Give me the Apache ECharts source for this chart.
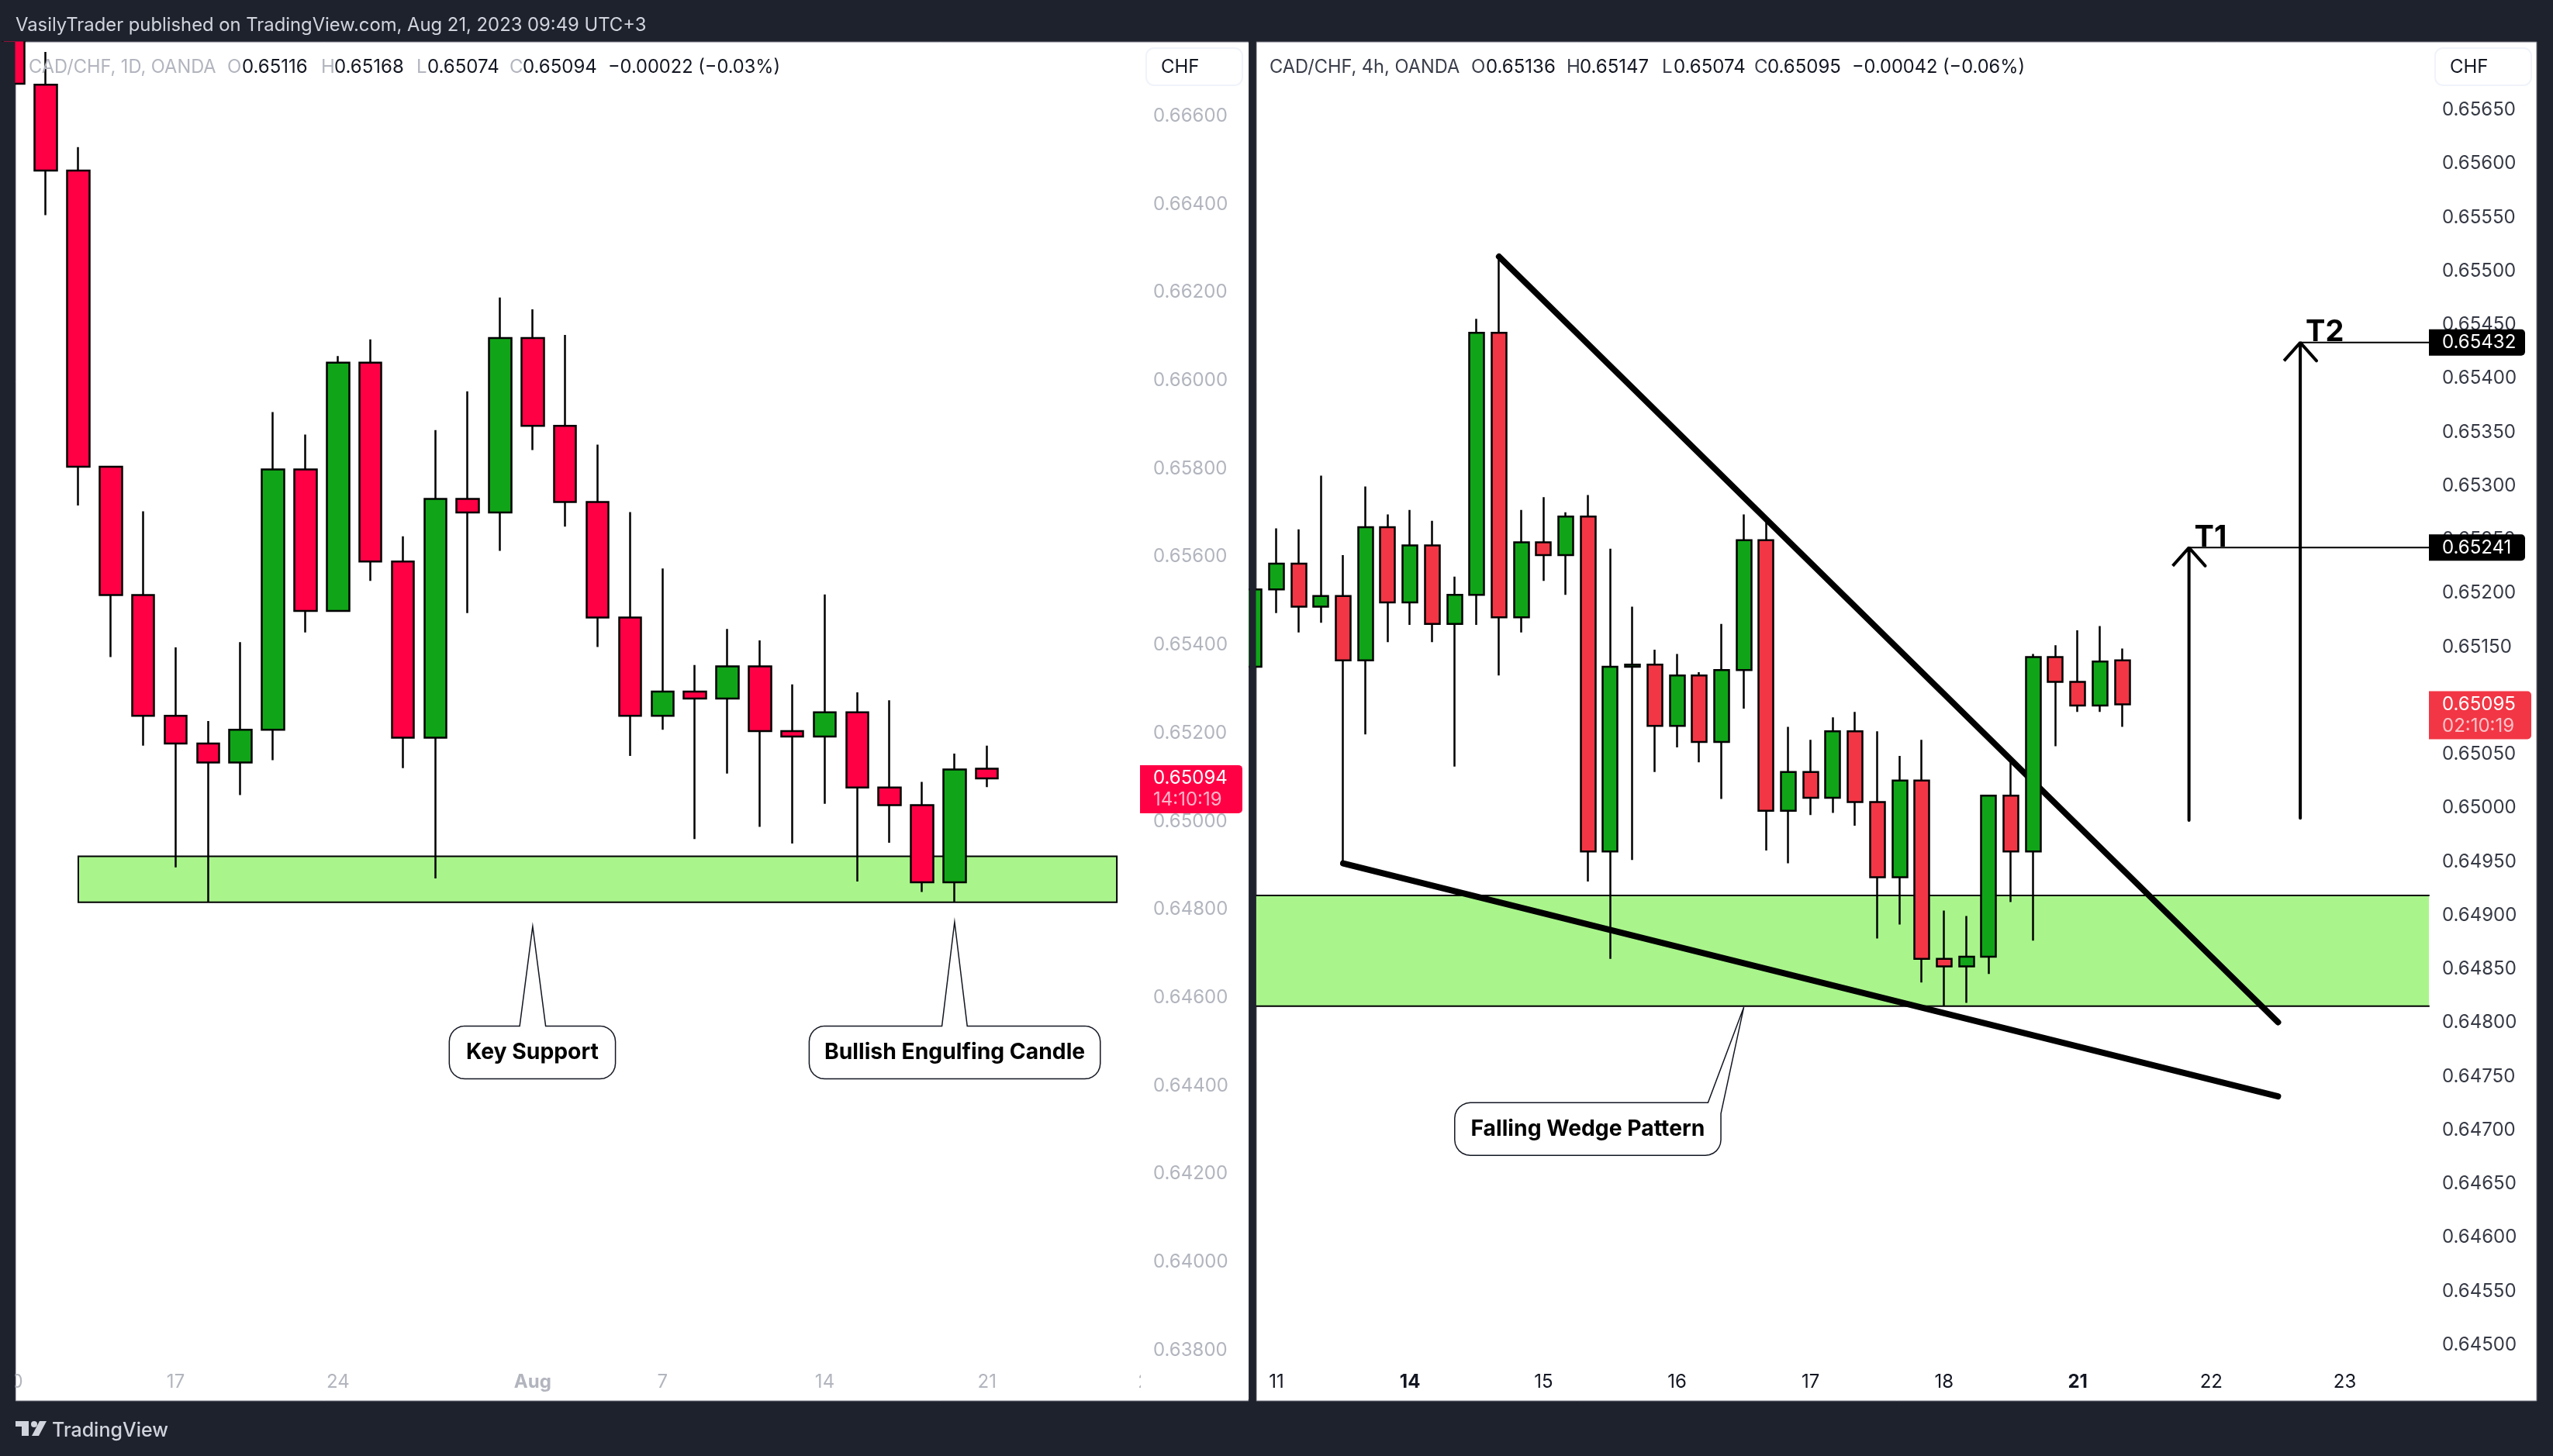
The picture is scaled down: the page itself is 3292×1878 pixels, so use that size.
<!DOCTYPE html>
<html>
<head>
<meta charset="utf-8">
<title>CAD/CHF</title>
<script src="https://cdn.jsdelivr.net/npm/echarts@6/dist/echarts.min.js"></script>
<style>
   html, body { margin: 0; padding: 0; background: #1e222d; }
   #chart { width: 3292px; height: 1878px; }
</style>
</head>
<body>
<div id="chart"></div>
<script>
// daily pane, bar 0 is Jul 10
const dailyOpen  = [0.66800,0.66668,0.66473,0.65801,0.65510,0.65236,0.65173,0.65130,0.65204,0.65795,0.65474,0.66037,0.65586,0.65186,0.65728,0.65697,0.66093,0.65894,0.65721,0.65459,0.65236,0.65291,0.65275,0.65348,0.65201,0.65189,0.65244,0.65073,0.65033,0.64858,0.65116];
const dailyClose = [0.66670,0.66473,0.65801,0.65510,0.65236,0.65173,0.65130,0.65204,0.65795,0.65474,0.66037,0.65586,0.65186,0.65728,0.65697,0.66093,0.65894,0.65721,0.65459,0.65236,0.65291,0.65275,0.65348,0.65201,0.65189,0.65244,0.65073,0.65033,0.64858,0.65114,0.65094];
const dailyLow   = [0.66670,0.66372,0.65713,0.65369,0.65168,0.64892,0.64814,0.65056,0.65135,0.65425,0.65474,0.65542,0.65117,0.64867,0.65469,0.65610,0.65839,0.65665,0.65392,0.65145,0.65204,0.64956,0.65105,0.64984,0.64946,0.65036,0.64860,0.64948,0.64836,0.64814,0.65074];
const dailyHigh  = [0.66800,0.66742,0.66526,0.65801,0.65700,0.65391,0.65224,0.65403,0.65925,0.65874,0.66052,0.66090,0.65643,0.65884,0.65972,0.66185,0.66158,0.66100,0.65851,0.65698,0.65570,0.65351,0.65433,0.65407,0.65307,0.65511,0.65289,0.65271,0.65086,0.65150,0.65168];
const dailyPriceTicks = [0.638,0.640,0.642,0.644,0.646,0.648,0.650,0.652,0.654,0.656,0.658,0.660,0.662,0.664,0.666];
const dailyTimeBars   = [0,5,10,16,20,25,30,35];
const dailyTimeLabels = ['10','17','24','Aug','7','14','21','28'];
const dailyBold = ['Aug'];
const dailyZone = [2, 34, 0.64917, 0.64813];

// 4h pane
const h4Open  = [0.65130,0.65202,0.65226,0.65186,0.65196,0.65136,0.65260,0.65190,0.65243,0.65170,0.65197,0.65441,0.65176,0.65246,0.65234,0.65270,0.64958,0.65130,0.65132,0.65075,0.65122,0.65060,0.65127,0.65248,0.64996,0.65032,0.65008,0.65070,0.65004,0.64934,0.65024,0.64858,0.64851,0.64860,0.65010,0.64958,0.65139,0.65116,0.65094,0.65136];
const h4Close = [0.65202,0.65226,0.65186,0.65196,0.65136,0.65260,0.65190,0.65243,0.65170,0.65197,0.65441,0.65176,0.65246,0.65234,0.65270,0.64958,0.65130,0.65132,0.65075,0.65122,0.65060,0.65127,0.65248,0.64996,0.65032,0.65008,0.65070,0.65004,0.64934,0.65024,0.64858,0.64851,0.64860,0.65010,0.64958,0.65139,0.65116,0.65094,0.65135,0.65095];
const h4Low   = [0.65120,0.65180,0.65162,0.65171,0.64949,0.65067,0.65153,0.65169,0.65153,0.65037,0.65169,0.65122,0.65162,0.65210,0.65197,0.64930,0.64858,0.64950,0.65032,0.65055,0.65041,0.65007,0.65091,0.64959,0.64947,0.64992,0.64994,0.64982,0.64877,0.64890,0.64836,0.64814,0.64817,0.64844,0.64911,0.64875,0.65056,0.65088,0.65088,0.65074];
const h4High  = [0.65210,0.65259,0.65258,0.65308,0.65234,0.65298,0.65272,0.65276,0.65266,0.65214,0.65454,0.65511,0.65276,0.65288,0.65274,0.65290,0.65240,0.65186,0.65146,0.65142,0.65125,0.65170,0.65272,0.65268,0.65074,0.65062,0.65083,0.65088,0.65070,0.65047,0.65062,0.64903,0.64898,0.65010,0.65042,0.65142,0.65150,0.65164,0.65168,0.65147];
const h4PriceTicks = [0.645,0.6455,0.646,0.6465,0.647,0.6475,0.648,0.6485,0.649,0.6495,0.650,0.6505,0.651,0.6515,0.652,0.6525,0.653,0.6535,0.654,0.6545,0.655,0.6555,0.656,0.6565];
const h4TimeBars   = [1,7,13,19,25,31,37,43,49];
const h4TimeLabels = ['11','14','15','16','17','18','21','22','23'];
const h4Bold = ['14','21'];
const h4Zone = [0.0976, 52.78, 0.64917, 0.64814];

// drawings on the 4h pane, as [bar, price]
const wedgeUpper = [[11,0.65512],[46,0.64799]];
const wedgeLower = [[4,0.64947],[46,0.64730]];
const t1Price = 0.65241, t2Price = 0.65432;
const t1Arrow = [[42,0.64987],[42,t1Price],[41.27,0.65224],[42,t1Price],[42.73,0.65224]];
const t2Arrow = [[47,0.64989],[47,t2Price],[46.27,0.65415],[47,t2Price],[47.73,0.65415]];
const t1Line = [[42,t1Price],[52.78,t1Price]];
const t2Line = [[47,t2Price],[52.78,t2Price]];
const zoneTopLine = [[0.0976,0.64917],[52.78,0.64917]];
const zoneBottomLine = [[0.0976,0.64814],[52.78,0.64814]];
const targetNotes = [[42,t1Price,'T1'],[47,t2Price,'T2']];

const dailyCallouts = [
   { text: 'Key Support', l: 13.43, r: 18.55, t: 0.64532, b: 0.64412, tip: [16,0.64758], a: [15.6,0.64532], c: [16.4,0.64532] },
   { text: 'Bullish Engulfing Candle', l: 24.52, r: 33.49, t: 0.64532, b: 0.64412, tip: [29,0.64768], a: [28.61,0.64532], c: [29.39,0.64532] },
];
const h4Callouts = [
   { text: 'Falling Wedge Pattern', l: 9.01, r: 20.97, t: 0.64724, b: 0.64675, tip: [22,0.64813], a: [20.39,0.64724], c: [20.97,0.64714] },
];

const dailyBadges = [{ price: 0.65094, text: '0.65094', timer: '14:10:19', fill: '#ff0045', w: 132 }];
const h4Badges = [
   { price: 0.65095, text: '0.65095', timer: '02:10:19', fill: '#f23645', w: 132 },
   { price: t1Price, text: '0.65241', fill: '#000000', w: 124 },
   { price: t2Price, text: '0.65432', fill: '#000000', w: 124 },
];

const dailyLegend = [
   ['CAD/CHF, 1D, OANDA',37,'g'],['O',293,'g'],['0.65116',312,'k'],['H',414,'g'],['0.65168',431,'k'],
   ['L',537,'g'],['0.65074',551,'k'],['C',657,'g'],['0.65094',674,'k'],['\u22120.00022 (\u22120.03%)',784,'k'],
];
const h4Legend = [
   ['CAD/CHF, 4h, OANDA',1637,'d'],['O',1897,'d'],['0.65136',1916,'k'],['H',2020,'d'],['0.65147',2037,'k'],
   ['L',2143,'d'],['0.65074',2158,'k'],['C',2262,'d'],['0.65095',2279,'k'],['\u22120.00042 (\u22120.06%)',2388,'k'],
];

const FONT = 'Inter, "Noto Sans", sans-serif';
const BG = '#1e222d';
const UP = '#10a518';


function bars(o, c, l, h)
{
   return o.map((v, i) => [i, v, c[i], l[i], h[i]]);
}

function candleSeries(idx, data, downColor, width, zone, zoneBorder)
{
   return {
      type: 'candlestick',
      xAxisIndex: idx,
      yAxisIndex: idx,
      data: data,
      barWidth: width,
      z: 2,
      silent: true,
      itemStyle: { color: UP, color0: downColor, borderColor: '#000', borderColor0: '#000', borderColorDoji: '#000', borderWidth: 2.5 },
      markArea: {
         silent: true,
         itemStyle: { color: '#a9f58b', borderColor: '#000', borderWidth: zoneBorder },
         data: [[ { xAxis: zone[0], yAxis: zone[2] }, { xAxis: zone[1], yAxis: zone[3] } ]],
      },
   };
}

function lineSeries(idx, data, width, z)
{
   return {
      type: 'line',
      xAxisIndex: idx,
      yAxisIndex: idx,
      data: data,
      symbol: 'none',
      silent: true,
      clip: false,
      z: z,
      lineStyle: { color: '#000', width: width, cap: 'round' },
   };
}

function arc(pts, cx, cy, r, a0)
{
   for (var i=0; i<=6; i++)
   {
      var a = (a0 + i*15) * Math.PI / 180;
      pts.push([cx + r*Math.cos(a), cy + r*Math.sin(a)]);
   }
}

function calloutSeries(idx, list)
{
   return {
      type: 'custom',
      xAxisIndex: idx,
      yAxisIndex: idx,
      silent: true,
      z: 5,
      data: list.map(c => c.tip),
      renderItem: function(params, api)
      {
         const c = list[params.dataIndex];
         const tl = api.coord([c.l, c.t]);
         const br = api.coord([c.r, c.b]);
         const r = 20;
         const pts = [];
         arc(pts, tl[0]+r, tl[1]+r, r, 180);
         pts.push(api.coord(c.a), api.coord(c.tip), api.coord(c.c));
         // base on the top edge needs the top right corner, otherwise it already sits on the right side
         if (c.c[1] === c.t) arc(pts, br[0]-r, tl[1]+r, r, 270);
         arc(pts, br[0]-r, br[1]-r, r, 0);
         arc(pts, tl[0]+r, br[1]-r, r, 90);
         return {
            type: 'group',
            children: [
               { type: 'polygon', shape: { points: pts }, style: { fill: '#fff', stroke: '#131722', lineWidth: 1.5 } },
               { type: 'text', style: { text: c.text, x: (tl[0]+br[0])/2, y: (tl[1]+br[1])/2, align: 'center', verticalAlign: 'middle',
                  fill: '#000', font: '700 28.3px ' + FONT } },
            ],
         };
      },
   };
}

function badgeSeries(idx, list, x0)
{
   return {
      type: 'custom',
      xAxisIndex: idx,
      yAxisIndex: idx,
      silent: true,
      z: 6,
      data: list.map(b => [1, b.price]),
      renderItem: function(params, api)
      {
         const b = list[params.dataIndex];
         const y = api.coord([1, b.price])[1];
         const h = b.timer ? 62 : 34;
         const kids = [
            { type: 'rect', shape: { x: x0, y: y-17, width: b.w, height: h, r: [0,5,5,0] }, style: { fill: b.fill } },
            { type: 'text', style: { text: b.text, x: x0+17, y: y, verticalAlign: 'middle', fill: '#fff', font: '24px ' + FONT } },
         ];
         if (b.timer) kids.push({ type: 'text', style: { text: b.timer, x: x0+17, y: y+28, verticalAlign: 'middle', fill: 'rgba(255,255,255,0.7)', font: '24px ' + FONT } });
         return { type: 'group', children: kids };
      },
   };
}

function noteSeries(idx, list)
{
   return {
      type: 'custom',
      xAxisIndex: idx,
      yAxisIndex: idx,
      silent: true,
      z: 6,
      data: list.map(n => [n[0], n[1]]),
      renderItem: function(params, api)
      {
         const n = list[params.dataIndex];
         const p = api.coord([n[0], n[1]]);
         return { type: 'text', style: { text: n[2], x: p[0]+7, y: p[1]-13, verticalAlign: 'middle', fill: '#000', font: '700 38px ' + FONT } };
      },
   };
}

function timeAxis(idx, min, max, ticks, labels, bold, color)
{
   return {
      type: 'value',
      gridIndex: idx,
      min: min,
      max: max,
      axisLine: { show: false },
      axisTick: { show: false },
      splitLine: { show: false },
      axisLabel: {
         customValues: ticks,
         margin: 19,
         color: color,
         fontFamily: FONT,
         fontSize: 24,
         hideOverlap: false,
         formatter: function(v)
         {
            const s = labels[ticks.indexOf(v)];
            return bold.indexOf(s) >= 0 ? '{b|' + s + '}' : s;
         },
         rich: { b: { fontFamily: FONT, fontSize: 24, fontWeight: 700, color: color } },
      },
   };
}

function priceAxis(idx, min, max, ticks, color, margin)
{
   return {
      type: 'value',
      gridIndex: idx,
      position: 'right',
      min: min,
      max: max,
      axisLine: { show: false },
      axisTick: { show: false },
      splitLine: { show: false },
      axisLabel: {
         customValues: ticks,
         margin: margin,
         // a short top aligned line box puts the digits 2px under the tick, as in the picture
         verticalAlign: 'top',
         lineHeight: 4,
         color: color,
         fontFamily: FONT,
         fontSize: 24,
         hideOverlap: false,
         formatter: (v) => v.toFixed(5),
      },
   };
}

function legendTexts(list)
{
   const colors = { g: '#b2b5be', d: '#3a3e4a', k: '#131722' };
   return list.map(s => ({
      type: 'text',
      z: 100,
      x: s[1],
      y: 87,
      style: { text: s[0], fill: colors[s[2]], font: (s[0].length > 7 ? '23.6px ' : '24px ') + FONT, verticalAlign: 'middle' },
   }));
}

function currencyBox(x, textX)
{
   return [
      { type: 'rect', z: 100, shape: { x: x, y: 62, width: 124, height: 48, r: 10 }, style: { fill: '#fff', stroke: '#f0f3fa', lineWidth: 2 } },
      { type: 'text', z: 101, x: textX, y: 87, style: { text: 'CHF', fill: '#131722', font: '24px ' + FONT, verticalAlign: 'middle' } },
   ];
}


const chart = echarts.init(document.getElementById('chart'), null, { renderer: 'canvas' });

chart.setOption({
   animation: false,
   backgroundColor: BG,
   grid: [
      { left: 0, top: 54, width: 1487, height: 1698 },
      { left: 1620, top: 54, width: 1512, height: 1698 },
   ],
   xAxis: [
      timeAxis(0, -0.4134, 35.12, dailyTimeBars, dailyTimeLabels, dailyBold, '#b2b5be'),
      timeAxis(1, 0.0976, 52.78, h4TimeBars, h4TimeLabels, h4Bold, '#131722'),
   ],
   yAxis: [
      priceAxis(0, 0.63778, 0.66765, dailyPriceTicks, '#b2b5be', 0),
      priceAxis(1, 0.64486, 0.65712, h4PriceTicks, '#363a45', 17),
   ],
   series: [
      candleSeries(0, bars(dailyOpen, dailyClose, dailyLow, dailyHigh), '#ff0045', 29, dailyZone, 2),
      calloutSeries(0, dailyCallouts),
      badgeSeries(0, dailyBadges, 1470),

      candleSeries(1, bars(h4Open, h4Close, h4Low, h4High), '#f23645', 19.5, h4Zone, 0),
      lineSeries(1, zoneTopLine, 2, 1.2),
      lineSeries(1, zoneBottomLine, 2, 1.2),
      lineSeries(1, wedgeUpper, 8, 1.5),
      lineSeries(1, wedgeLower, 8, 1.5),
      lineSeries(1, t1Line, 2, 3),
      lineSeries(1, t2Line, 2, 3),
      lineSeries(1, t1Arrow, 4, 3),
      lineSeries(1, t2Arrow, 4, 3),
      calloutSeries(1, h4Callouts),
      badgeSeries(1, h4Badges, 3132),
      noteSeries(1, targetNotes),
   ],
   graphic: [
      // panes
      { type: 'rect', z: -1, shape: { x: 20, y: 54, width: 1590, height: 1753 }, style: { fill: '#fff', stroke: '#6a6d78', lineWidth: 1 } },
      { type: 'rect', z: -1, shape: { x: 1620, y: 54, width: 1651, height: 1753 }, style: { fill: '#fff', stroke: '#6a6d78', lineWidth: 1 } },
      // candles are not clipped to the grid, so the gutters cover what sticks out of the panes
      { type: 'rect', z: 100, shape: { x: 0, y: 54, width: 19.5, height: 1754 }, style: { fill: BG } },
      { type: 'rect', z: 99, shape: { x: 0, y: 28, width: 34, height: 25.5 }, style: { fill: BG } },
      { type: 'rect', z: 100, shape: { x: 1610.5, y: 54, width: 9, height: 1754 }, style: { fill: BG } },
      { type: 'rect', z: 99, shape: { x: 1604, y: 55, width: 6, height: 1750 }, style: { fill: '#fff' } },
      { type: 'rect', z: 50, shape: { x: 1471, y: 1760, width: 132, height: 46 }, style: { fill: '#fff' } },

      { type: 'text', z: 100, x: 20, y: 33, style: { text: 'VasilyTrader published on TradingView.com, Aug 21, 2023 09:49 UTC+3', fill: '#d1d4dc', font: '23.8px ' + FONT, verticalAlign: 'middle' } },
      ...legendTexts(dailyLegend),
      ...legendTexts(h4Legend),
      ...currencyBox(1478, 1497),
      ...currencyBox(3140, 3159),

      // logo
      { type: 'polygon', z: 100, shape: { points: [[20,1833],[37,1833],[37,1852],[28,1852],[28,1840],[20,1840]] }, style: { fill: '#d1d4dc' } },
      { type: 'circle', z: 100, shape: { cx: 44, cy: 1837, r: 4 }, style: { fill: '#d1d4dc' } },
      { type: 'polygon', z: 100, shape: { points: [[51,1833],[60,1833],[50,1852],[41,1852]] }, style: { fill: '#d1d4dc' } },
      { type: 'text', z: 100, x: 67, y: 1845, style: { text: 'TradingView', fill: '#d1d4dc', font: '500 25px ' + FONT, verticalAlign: 'middle' } },
   ],
});
</script>
</body>
</html>
